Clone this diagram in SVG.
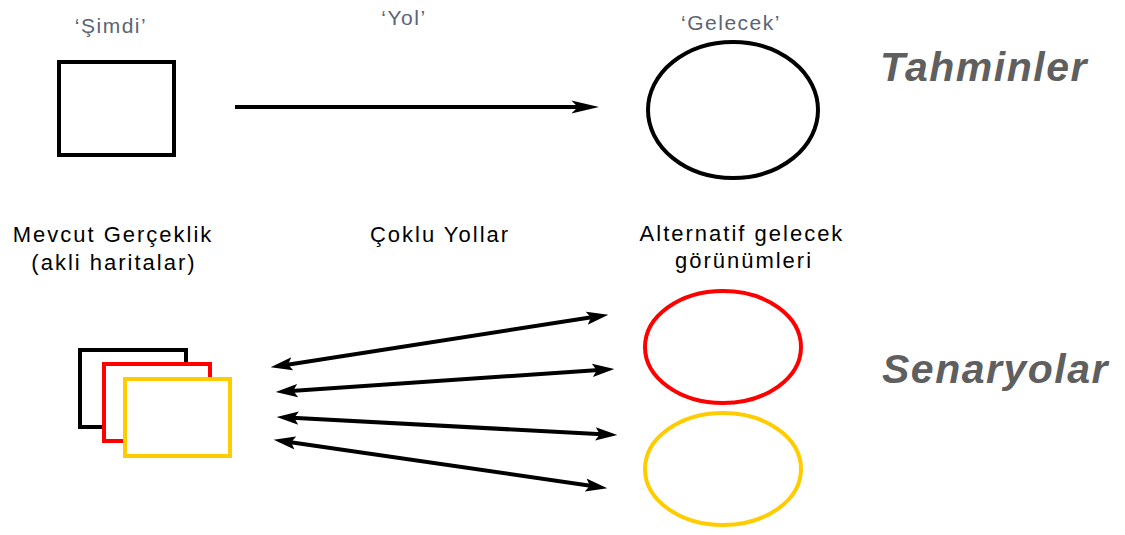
<svg xmlns="http://www.w3.org/2000/svg" width="1125" height="535" viewBox="0 0 1125 535">
<style>
  .lbl { font-family: "Liberation Sans", Arial, sans-serif; font-size: 22px; fill: #000; letter-spacing: 2px; text-anchor: middle; }
  .q { font-family: "Liberation Sans", Arial, sans-serif; font-size: 21px; fill: #5a6475; letter-spacing: 1.5px; text-anchor: middle; }
  .big { font-family: "Liberation Sans", Arial, sans-serif; font-size: 41px; font-weight: bold; font-style: italic; fill: #5f5f5f; letter-spacing: 1.5px; }
  .shape { fill: #fff; stroke-width: 4; }
  .conn { stroke: #000; stroke-width: 4; fill: none; }
</style>
<defs>
  <marker id="stealth" markerUnits="userSpaceOnUse" markerWidth="28" markerHeight="14" viewBox="0 0 26 12" refX="8" refY="6" orient="auto">
    <path d="M0,0 L26,6 L0,12 L6,6 z" fill="#000"/>
  </marker>
  <marker id="head" markerUnits="userSpaceOnUse" markerWidth="22" markerHeight="14" viewBox="0 0 20 12" refX="6" refY="6" orient="auto-start-reverse">
    <path d="M0,0 L20,6 L0,12 L4,6 z" fill="#000"/>
  </marker>
</defs>
<rect width="1125" height="535" fill="#fff"/>

<g id="simdi">
  <text class="q" x="111" y="33">‘Şimdi’</text>
  <rect class="shape" x="59" y="62" width="115" height="93" stroke="#000"/>
</g>
<g id="yol">
  <text class="q" x="404" y="25">‘Yol’</text>
</g>
<g id="gelecek">
  <text class="q" x="731" y="30">‘Gelecek’</text>
  <ellipse class="shape" cx="733" cy="110" rx="85" ry="68" stroke="#000"/>
</g>
<g id="tahminler">
  <text class="big" x="880" y="81">Tahminler</text>
</g>

<g id="mevcut">
  <text class="lbl" x="113" y="242">Mevcut Gerçeklik</text>
  <text class="lbl" x="114" y="270">(akli haritalar)</text>
  <rect class="shape" x="80" y="350" width="106" height="77" stroke="#000"/>
  <rect class="shape" x="104" y="364" width="106" height="77" stroke="#ff0000"/>
  <rect class="shape" x="125" y="379" width="105" height="77" stroke="#ffcc00"/>
</g>
<g id="coklu">
  <text class="lbl" x="440" y="242">Çoklu Yollar</text>
</g>
<g id="alternatif">
  <text class="lbl" x="742" y="241">Alternatif gelecek</text>
  <text class="lbl" x="744" y="268">görünümleri</text>
  <ellipse class="shape" cx="723" cy="347" rx="78" ry="56" stroke="#ff0000"/>
  <ellipse class="shape" cx="723" cy="469" rx="78" ry="56" stroke="#ffcc00"/>
</g>
<g id="senaryolar">
  <text class="big" x="882" y="383">Senaryolar</text>
</g>

<g id="connectors">
  <line class="conn" x1="235" y1="107" x2="580" y2="107" marker-end="url(#stealth)"/>
  <line class="conn" x1="285.8" y1="364.9" x2="593.2" y2="317.1" marker-start="url(#head)" marker-end="url(#head)"/>
  <line class="conn" x1="291" y1="391" x2="599" y2="370" marker-start="url(#head)" marker-end="url(#head)"/>
  <line class="conn" x1="292" y1="417.7" x2="602" y2="434.3" marker-start="url(#head)" marker-end="url(#head)"/>
  <line class="conn" x1="288.9" y1="442" x2="592.1" y2="486" marker-start="url(#head)" marker-end="url(#head)"/>
</g>
</svg>
